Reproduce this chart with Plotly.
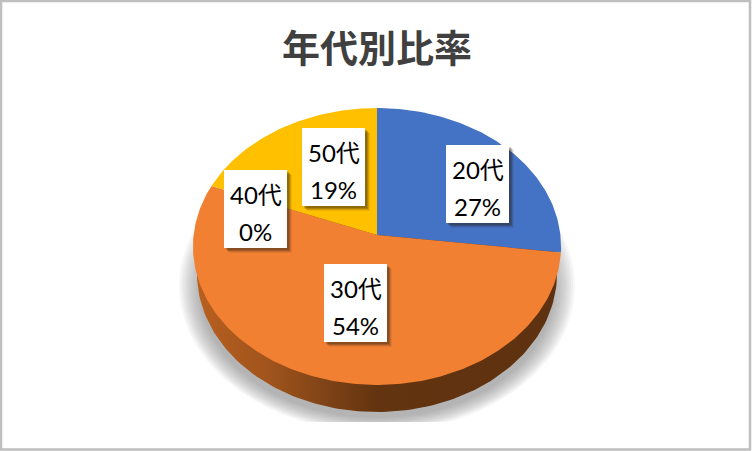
import numpy as np
import plotly.graph_objects as go

title = "年代別比率"
categories = ["20代", "30代", "40代", "50代"]
shares = [27, 54, 0, 19]
colors = ["#4472C4", "#F28033", "#A5A5A5", "#FFC000"]

WIDTH, HEIGHT = 752, 451

# perspective of the pie top, in pixels
CX, CY = 377, 235
A, B, K = 183.4, 137.5, 0.083

# label boxes, left/top corner for every category
box_corners = [(446, 145), (324, 264), (224, 170), (302, 128)]
BOX_W, BOX_H = 63, 78


def project(angle):
    # angle runs clockwise from 12 o'clock on the flat pie
    x = np.sin(angle)
    y = np.cos(angle)
    w = 1 + K * y
    return CX + A * x / w, CY - B * y / w


def ellipse(cx, cy, rx, ry, bottom=None):
    t = np.linspace(0, 2 * np.pi, 241)
    ys = cy + ry * np.sin(t)
    if bottom is not None:
        ys = np.minimum(ys, bottom)
    return cx + rx * np.cos(t), ys


fig = go.Figure()

# soft shadow under the pie
for i in range(12):
    xs, ys = ellipse(377, 286 + i * 0.3, 198 - i * 1.9, 146 - i * 1.6, bottom=422)
    fig.add_trace(go.Scatter(x=xs, y=ys, mode="lines", fill="toself",
                             fillcolor="rgba(120,120,120,0.06)",
                             line=dict(width=0), hoverinfo="skip"))

# side wall
xs, ys = ellipse(377, 273.5, 180, 138.5)
fig.add_trace(go.Scatter(
    x=xs, y=ys, mode="lines", fill="toself", line=dict(width=0), hoverinfo="skip",
    fillgradient=dict(type="horizontal", colorscale=[
        [0, "#B85F20"], [0.2, "#A0541C"], [0.4, "#763E14"],
        [0.5, "#63340F"], [1, "#5E3110"]])))

# top of the pie, one wedge per share
start = 0
for name, share, color in zip(categories, shares, colors):
    end = start + share
    if share > 0:
        angles = np.linspace(start, end, max(share * 4, 2)) / 100 * 2 * np.pi
        xs, ys = project(angles)
        fig.add_trace(go.Scatter(
            x=np.concatenate([[CX], xs, [CX]]), y=np.concatenate([[CY], ys, [CY]]),
            mode="lines", fill="toself", fillcolor=color, line=dict(width=0),
            name=name, hoverinfo="skip"))
    start = end

shapes = [dict(type="rect", xref="x", yref="y", x0=1, y0=1, x1=750, y1=449.5,
               line=dict(color="#BFBFBF", width=2.5), layer="above")]
annotations = [dict(text=title, x=376.5, y=45, xref="x", yref="y", showarrow=False,
                    font=dict(family="Noto Sans CJK JP", size=38, color="#404040",
                              weight="bold"))]

for name, share, (bx, by) in zip(categories, shares, box_corners):
    # blurred drop shadow, then the white box
    for off, alpha in [(5, 0.08), (4, 0.14), (3, 0.22), (2, 0.22)]:
        shapes.append(dict(type="rect", xref="x", yref="y", x0=bx + off, y0=by + off,
                           x1=bx + BOX_W + off, y1=by + BOX_H + off,
                           fillcolor=f"rgba(40,30,20,{alpha})", line=dict(width=0),
                           layer="above"))
    shapes.append(dict(type="rect", xref="x", yref="y", x0=bx, y0=by,
                       x1=bx + BOX_W, y1=by + BOX_H, fillcolor="white",
                       line=dict(width=0), layer="above"))
    for text, dy in [(name, 24), (f"{share}%", 61)]:
        annotations.append(dict(text=text, x=bx + BOX_W / 2, y=by + dy, xref="x", yref="y",
                                showarrow=False,
                                font=dict(family="Lato, Noto Sans CJK JP", size=24,
                                          color="#000000")))

fig.update_layout(
    width=WIDTH, height=HEIGHT, margin=dict(l=0, r=0, t=0, b=0),
    paper_bgcolor="white", plot_bgcolor="white", showlegend=False,
    xaxis=dict(range=[0, WIDTH], visible=False, fixedrange=True),
    yaxis=dict(range=[HEIGHT, 0], visible=False, fixedrange=True),
    shapes=shapes, annotations=annotations)

fig.write_html("out.html", config=dict(displayModeBar=False),
               post_script="document.body.style.margin='0';document.body.style.overflow='hidden';")
